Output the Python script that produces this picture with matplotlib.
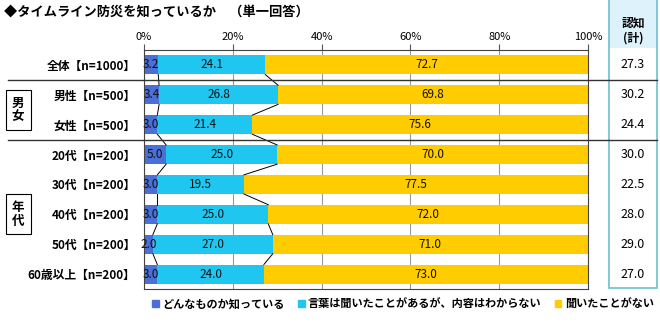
import matplotlib.pyplot as plt
import numpy as np
from matplotlib.patches import Rectangle
from matplotlib.lines import Line2D
from matplotlib.transforms import blended_transform_factory

plt.rcParams['font.family'] = ['Noto Sans CJK JP', 'DejaVu Sans']

title = "◆タイムライン防災を知っているか　（単一回答）"
categories = ["全体【n=1000】", "男性【n=500】", "女性【n=500】", "20代【n=200】",
              "30代【n=200】", "40代【n=200】", "50代【n=200】", "60歳以上【n=200】"]
series_names = ["どんなものか知っている", "言葉は聞いたことがあるが、内容はわからない", "聞いたことがない"]
know = [3.2, 3.4, 3.0, 5.0, 3.0, 3.0, 2.0, 3.0]
heard = [24.1, 26.8, 21.4, 25.0, 19.5, 25.0, 27.0, 24.0]
never = [72.7, 69.8, 75.6, 70.0, 77.5, 72.0, 71.0, 73.0]
aware = ["27.3", "30.2", "24.4", "30.0", "22.5", "28.0", "29.0", "27.0"]
colors = ["#4a6fd6", "#1ec6f0", "#ffcc00"]

W, H = 660, 322
fig = plt.figure(figsize=(6.6, 3.22), dpi=100)
ax = fig.add_axes([144 / W, 1 - 289 / H, 444 / W, 239 / H])

y = np.arange(len(categories))
data = [know, heard, never]
left = np.zeros(len(categories))
bh = 0.64
for vals, col in zip(data, colors):
    vals = np.array(vals)
    ax.barh(y, vals, left=left, height=bh, color=col, zorder=2)
    for yi, l, v in zip(y, left, vals):
        ax.text(l + v / 2, yi, f"{v:.1f}", ha="center", va="center",
                fontsize=8.5, color="#111111", zorder=4)
    left = left + vals

# series connector lines
cum1 = np.array(know)
cum2 = cum1 + np.array(heard)
for cum in (cum1, cum2):
    for i in range(len(y) - 1):
        ax.plot([cum[i], cum[i + 1]], [y[i] + bh / 2, y[i + 1] - bh / 2],
                color="black", lw=0.7, zorder=3)

ax.set_xlim(0, 100)
ax.set_ylim(len(y) - 0.5, -0.5)
ax.set_xticks([0, 20, 40, 60, 80, 100])
ax.set_xticklabels(["0%", "20%", "40%", "60%", "80%", "100%"], fontsize=8)
ax.xaxis.tick_top()
ax.tick_params(axis="x", length=4, color="#555555", pad=2)
ax.set_yticks(y)
ax.set_yticklabels(categories, fontsize=8.5, fontweight="bold")
ax.tick_params(axis="y", length=0, pad=6)
ax.grid(axis="x", color="#999999", lw=0.8, zorder=0)
for s in ax.spines.values():
    s.set_color("#444444")
    s.set_linewidth(0.8)

# group separators
tr = blended_transform_factory(fig.transFigure, ax.transData)
for yy in (0.5, 2.5):
    fig.add_artist(Line2D([8 / W, 657 / W], [yy, yy], transform=tr,
                          color="#333333", lw=1.0))

# group boxes
fig.text(18 / W, 1 - 110 / H, "男\n女", ha="center", va="center", fontsize=9,
         fontweight="bold", linespacing=1.1,
         bbox=dict(boxstyle="square,pad=0.5", fc="white", ec="black", lw=0.8))
fig.text(18 / W, 1 - 214 / H, "年\n代", ha="center", va="center", fontsize=9,
         fontweight="bold", linespacing=1.1,
         bbox=dict(boxstyle="square,pad=0.5", fc="white", ec="black", lw=0.8))

# awareness table
fig.add_artist(Rectangle((609 / W, 1 - 48 / H), 48 / W, 48 / H, transform=fig.transFigure,
                         fc="#ddf2fa", ec="none", zorder=0))
fig.add_artist(Rectangle((609 / W, 1 - 288 / H), 48 / W, 289 / H, transform=fig.transFigure,
                         fc="none", ec="#6fbcd6", lw=1.2))
fig.text(633 / W, 1 - 23 / H, "認知", ha="center", va="center", fontsize=8.5, fontweight="bold")
fig.text(633 / W, 1 - 38 / H, "(計)", ha="center", va="center", fontsize=8.5, fontweight="bold")
trv = blended_transform_factory(fig.transFigure, ax.transData)
for yi, a in zip(y, aware):
    fig.text(633 / W, yi, a, transform=trv, ha="center", va="center", fontsize=9)

fig.text(4 / W, 1 - 12 / H, title, ha="left", va="center", fontsize=9.5, fontweight="bold")

handles = [Rectangle((0, 0), 1, 1, color=c) for c in colors]
fig.legend(handles, series_names, loc="center", bbox_to_anchor=(403 / W, 1 - 304 / H),
           ncol=3, frameon=False, prop={"size": 8, "weight": "bold"},
           handlelength=0.6, handleheight=0.6, handletextpad=0.3, columnspacing=1.2)

fig.savefig("out.png", dpi=100)
